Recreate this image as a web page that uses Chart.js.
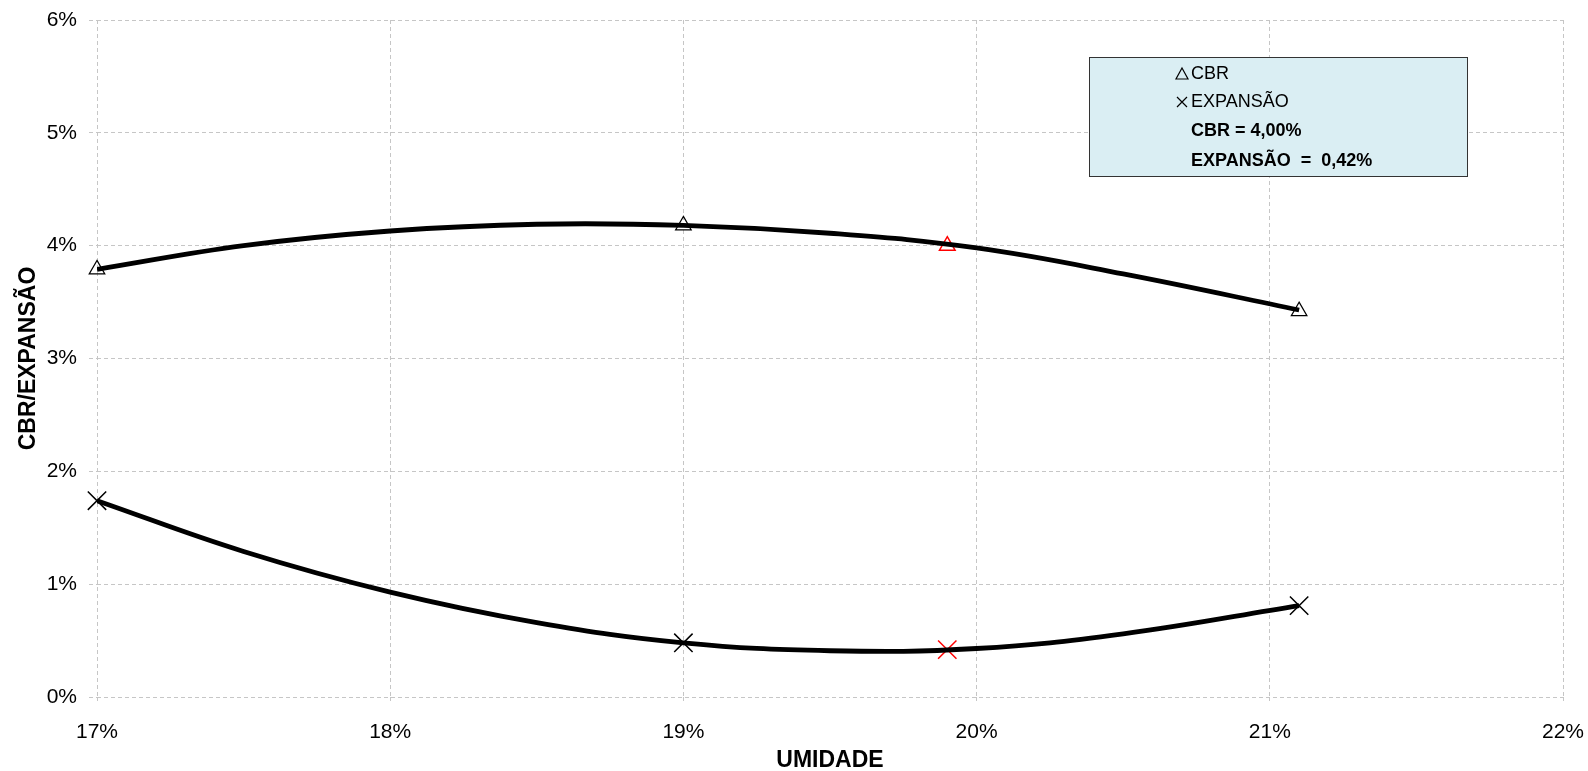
<!DOCTYPE html>
<html>
<head>
<meta charset="utf-8">
<script src="https://cdn.jsdelivr.net/npm/chart.js@4/dist/chart.umd.min.js"></script>
<style>
  html, body { margin: 0; padding: 0; background: #fff; }
  #wrap { width: 1588px; height: 771px; }
</style>
</head>
<body>
<div id="wrap"><canvas id="chartCbr"></canvas></div>
<script>
// ensaio CBR - umidade x CBR / expansao (valores em %)
const umidade = [17, 19, 21.1];
const cbr = [3.79, 4.18, 3.42];
const expansao = [1.74, 0.48, 0.81];

// ponto no teor de umidade otima
const umidadeOtima = [19.9];
const cbrOtimo = [4.00];
const expansaoOtima = [0.42];

// linhas de tendencia
const umidadeCurva = [17, 17.5, 18, 18.5, 19, 19.5, 20, 20.5, 21.1];
const cbrCurva = [3.79, 4.00, 4.13, 4.19, 4.18, 4.11, 3.98, 3.75, 3.43];
const expansaoCurva = [1.74, 1.29, 0.93, 0.66, 0.48, 0.41, 0.43, 0.56, 0.81];

const legendaTextos = ['CBR', 'EXPANSÃO', 'CBR = 4,00%', 'EXPANSÃO  =  0,42%'];

function pares(xs, ys) {
    return xs.map(function(x, i) { return { x: x, y: ys[i] }; });
}

const legendaBox = {
    id: 'legendaBox',
    afterDraw: function(chart) {
        const ctx = chart.ctx;
        ctx.save();
        ctx.fillStyle = '#DAEEF3';
        ctx.fillRect(1089, 57, 378, 119);
        ctx.strokeStyle = '#333';
        ctx.lineWidth = 1;
        ctx.strokeRect(1089.5, 57.5, 378, 119);

        // triangulo
        ctx.strokeStyle = '#000';
        ctx.lineWidth = 1.2;
        ctx.beginPath();
        ctx.moveTo(1182, 68);
        ctx.lineTo(1188, 79);
        ctx.lineTo(1176, 79);
        ctx.closePath();
        ctx.stroke();
        // x
        ctx.beginPath();
        ctx.moveTo(1177, 97); ctx.lineTo(1187, 107);
        ctx.moveTo(1187, 97); ctx.lineTo(1177, 107);
        ctx.stroke();

        ctx.fillStyle = '#000';
        ctx.textBaseline = 'middle';
        ctx.textAlign = 'left';
        ctx.font = '18px "Liberation Sans", Arial, sans-serif';
        ctx.fillText(legendaTextos[0], 1191, 74);
        ctx.fillText(legendaTextos[1], 1191, 102);
        ctx.font = 'bold 18px "Liberation Sans", Arial, sans-serif';
        ctx.fillText(legendaTextos[2], 1191, 131);
        ctx.fillText(legendaTextos[3], 1191, 161);
        ctx.restore();
    }
};

const gradeCor = '#c6c6c6';

new Chart(document.getElementById('chartCbr').getContext('2d'), {
    type: 'scatter',
    data: {
        datasets: [
            {
                label: 'CBR tendencia',
                data: pares(umidadeCurva, cbrCurva),
                showLine: true,
                borderColor: '#000',
                borderWidth: 4.8,
                pointRadius: 0,
                tension: 0.4
            },
            {
                label: 'EXPANSÃO tendencia',
                data: pares(umidadeCurva, expansaoCurva),
                showLine: true,
                borderColor: '#000',
                borderWidth: 4.8,
                pointRadius: 0,
                tension: 0.4
            },
            {
                label: 'CBR',
                data: pares(umidade, cbr),
                pointStyle: 'triangle',
                pointRadius: 9,
                borderColor: '#000',
                backgroundColor: 'rgba(0,0,0,0)',
                borderWidth: 1.2,
                clip: false
            },
            {
                label: 'EXPANSÃO',
                data: pares(umidade, expansao),
                pointStyle: 'crossRot',
                pointRadius: 13,
                borderColor: '#000',
                borderWidth: 1.5,
                clip: false
            },
            {
                label: 'CBR ótimo',
                data: pares(umidadeOtima, cbrOtimo),
                pointStyle: 'triangle',
                pointRadius: 9,
                borderColor: '#ff0000',
                backgroundColor: 'rgba(0,0,0,0)',
                borderWidth: 1.5,
                clip: false
            },
            {
                label: 'EXPANSÃO ótima',
                data: pares(umidadeOtima, expansaoOtima),
                pointStyle: 'crossRot',
                pointRadius: 13,
                borderColor: '#ff0000',
                borderWidth: 1.5,
                clip: false
            }
        ]
    },
    options: {
        responsive: true,
        maintainAspectRatio: false,
        animation: false,
        layout: { padding: { top: 20, right: 25, left: 0, bottom: 0 } },
        plugins: {
            legend: { display: false },
            tooltip: { enabled: false }
        },
        scales: {
            x: {
                type: 'linear',
                min: 17,
                max: 22,
                afterFit: function(scale) {
                    scale.height = 74;
                    scale.paddingRight = 0;
                    scale.paddingLeft = 0;
                },
                ticks: {
                    stepSize: 1,
                    padding: 17,
                    color: '#000',
                    font: { family: '"Liberation Sans", Arial, sans-serif', size: 21 },
                    callback: function(v) { return v + '%'; }
                },
                grid: {
                    color: gradeCor,
                    tickBorderDash: [4, 3],
                    tickLength: 6,
                    drawTicks: true
                },
                border: { display: false, dash: [4, 3] },
                title: {
                    display: true,
                    text: 'UMIDADE',
                    color: '#000',
                    padding: { top: 0, bottom: -3 },
                    font: { family: '"Liberation Sans", Arial, sans-serif', size: 23, weight: 'bold' }
                }
            },
            y: {
                min: 0,
                max: 6,
                afterFit: function(scale) {
                    scale.width = 97;
                    scale.paddingTop = 0;
                    scale.paddingBottom = 0;
                },
                ticks: {
                    stepSize: 1,
                    padding: 12,
                    color: '#000',
                    font: { family: '"Liberation Sans", Arial, sans-serif', size: 21 },
                    callback: function(v) { return v + '%'; }
                },
                grid: {
                    color: gradeCor,
                    tickBorderDash: [4, 3],
                    tickLength: 8,
                    drawTicks: true
                },
                border: { display: false, dash: [4, 3] },
                title: {
                    display: true,
                    text: 'CBR/EXPANSÃO',
                    color: '#000',
                    padding: { top: 15, bottom: 0 },
                    font: { family: '"Liberation Sans", Arial, sans-serif', size: 23, weight: 'bold' }
                }
            }
        }
    },
    plugins: [legendaBox]
});
</script>
</body>
</html>
